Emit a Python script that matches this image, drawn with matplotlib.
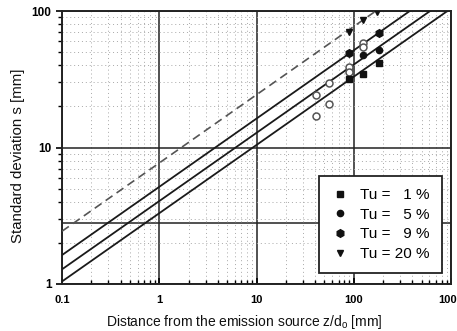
import matplotlib
matplotlib.use("Agg")
import matplotlib.pyplot as plt
import numpy as np
from matplotlib.ticker import FixedLocator, FixedFormatter, LogLocator, NullFormatter

plt.rcParams['font.family'] = ['Liberation Sans', 'DejaVu Sans']

# ---- data ----
x_ticks = [0.1, 1, 10, 100, 1000]
x_tick_labels = ["0.1", "1", "10", "100", "1000"]
y_ticks = [1, 10, 100]
y_tick_labels = ["1", "10", "100"]

# fitted lines s = a * sqrt(z/d0)
line_coeffs = [3.3, 4.05, 5.15]   # solid lines
dashed_coeff = 7.7                # dashed line

# measurement points
z_tu1 = [90, 125, 180]
s_tu1 = [32, 34.5, 41.5]
z_tu5 = [125, 180]
s_tu5 = [47.5, 52]
z_tu9 = [90, 180]
s_tu9 = [49, 68.5]
z_tu20 = [90, 125, 175]
s_tu20 = [70.5, 86, 98]
z_open = [41, 41, 56, 56, 90, 90, 125, 125]
s_open = [24.3, 17.1, 29.8, 20.8, 39, 36, 58.5, 54.5]

labels = ["Tu = \u20071 %", "Tu = \u20075 %", "Tu = \u20079 %", "Tu = 20 %"]

W, H = 457, 331
fig = plt.figure(figsize=(W / 100, H / 100), dpi=100)
ax = fig.add_axes([62 / W, 1 - 284 / H, (451 - 62) / W, (284 - 11) / H])
ax.set_xscale('log')
ax.set_yscale('log')
ax.set_xlim(0.1, 1000)
ax.set_ylim(1, 100)

# grids
ax.xaxis.set_minor_locator(LogLocator(base=10, subs=np.arange(2, 10)))
ax.yaxis.set_minor_locator(LogLocator(base=10, subs=np.arange(2, 10)))
ax.grid(True, which='minor', color='#a8a8a8', linestyle=(0, (1, 3)), linewidth=0.7)
ax.grid(True, which='major', color='#222222', linewidth=1.1)
ax.axhline(2.8, color='#222222', linewidth=1.1, zorder=1.5)

zz = np.logspace(-1, 3, 200)
for a in line_coeffs:
    ax.plot(zz, a * np.sqrt(zz), color='#1a1a1a', linewidth=1.3, zorder=3)
ax.plot(zz, dashed_coeff * np.sqrt(zz), color='#555555', linewidth=1.2,
        linestyle=(0, (5, 3)), zorder=3)

ax.plot(z_open, s_open, linestyle='none', marker='o', markersize=5,
        markerfacecolor='white', markeredgecolor='#555555', markeredgewidth=1.1, zorder=4)
ax.plot(z_tu1, s_tu1, linestyle='none', marker='s', markersize=4.5, color='#111111',
        label=labels[0], zorder=5)
ax.plot(z_tu5, s_tu5, linestyle='none', marker='o', markersize=4.5, color='#111111',
        label=labels[1], zorder=5)
ax.plot(z_tu9, s_tu9, linestyle='none', marker='h', markersize=5.5, color='#111111',
        label=labels[2], zorder=5)
ax.plot(z_tu20, s_tu20, linestyle='none', marker='v', markersize=5, color='#111111',
        label=labels[3], zorder=5)

ax.xaxis.set_major_locator(FixedLocator(x_ticks))
ax.xaxis.set_major_formatter(FixedFormatter(x_tick_labels))
ax.xaxis.set_minor_formatter(NullFormatter())
ax.yaxis.set_major_locator(FixedLocator(y_ticks))
ax.yaxis.set_major_formatter(FixedFormatter(y_tick_labels))
ax.yaxis.set_minor_formatter(NullFormatter())

ax.tick_params(axis='x', which='both', direction='in', labelsize=8, pad=8)
ax.tick_params(axis='x', which='major', length=4, width=1.2)
ax.tick_params(axis='x', which='minor', length=3, width=1.0)
ax.tick_params(axis='y', which='both', direction='out', labelsize=8.5)
ax.tick_params(axis='y', which='major', length=4, width=1.2)
ax.tick_params(axis='y', which='minor', length=3, width=1.0)
for lab in ax.get_yticklabels() + ax.get_xticklabels():
    lab.set_fontweight('bold')

for sp in ax.spines.values():
    sp.set_linewidth(1.4)
    sp.set_color('#222222')

ax.set_xlabel("Distance from the emission source z/d$_\\mathregular{o}$ [mm]",
              fontsize=10, color='#111111')
ax.xaxis.set_label_coords((244 - 62) / 389, -(313 - 284) / 273)
ax.set_ylabel("Standard deviation s [mm]", fontsize=10.8, color='#111111')
ax.yaxis.set_label_coords((25 - 62) / 389, (284 - 156) / 273)

leg = ax.legend(loc='lower right', bbox_to_anchor=(0.977, 0.04), fontsize=11,
                frameon=True, fancybox=False, edgecolor='#222222', framealpha=1,
                handletextpad=0.7, labelspacing=0.37, borderpad=0.8,
                handlelength=1.2, borderaxespad=0)
leg.get_frame().set_linewidth(1.3)
leg.set_zorder(10)

fig.savefig("out.png", dpi=100)
